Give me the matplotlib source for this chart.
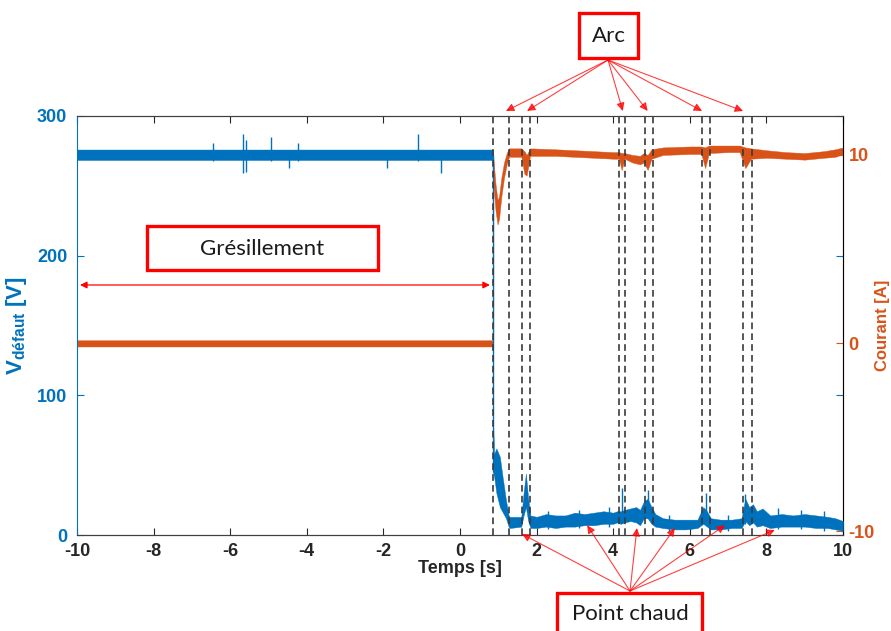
import matplotlib
matplotlib.use("Agg")
import matplotlib.pyplot as plt
from matplotlib.patches import Rectangle

# voltage envelope (time [s], lower / upper edge of noisy trace [V])
volt_t = [-10, 0.86, 0.86, 0.89, 0.95, 1.04, 1.12, 1.20, 1.27, 1.30, 1.60, 1.66, 1.72, 1.78,
          1.84, 2.0, 2.25, 2.5, 2.75, 3.0, 3.25, 3.5, 3.75, 4.0,
          4.1, 4.2, 4.3, 4.45, 4.6, 4.7, 4.8, 4.9, 5.0, 5.1,
          5.3, 5.6, 5.9, 6.2, 6.35, 6.45, 6.55, 6.8, 7.1, 7.35,
          7.45, 7.55, 7.65, 7.75, 7.9, 8.1, 8.4, 8.7, 9.0, 9.3,
          9.6, 9.8, 10.0]
volt_lo = [268.5, 268.5, 45, 42, 30, 20, 16, 12, 6, 5, 6, 14, 20, 10,
           5, 5, 6, 5, 6, 6, 7, 7, 8, 8,
           9, 8, 9, 10, 9, 7, 12, 12, 8, 6,
           5, 4, 4, 5, 8, 6, 4, 4, 5, 5,
           10, 7, 9, 6, 7, 5, 6, 6, 6, 5,
           5, 4, 3]
volt_hi = [276, 276, 85, 58, 62, 56, 40, 25, 14, 13, 13, 30, 44, 26,
           14, 13, 15, 14, 14, 16, 15, 16, 17, 16,
           17, 17, 18, 19, 20, 18, 24, 26, 20, 15,
           12, 11, 11, 11, 20, 17, 12, 11, 11, 12,
           26, 20, 22, 17, 19, 14, 15, 14, 15, 14,
           13, 12, 10]

# isolated voltage spikes (time, min, max)
vspike_t = [-6.45, -5.67, -5.6, -4.93, -4.46, -4.23, -1.9, -1.1, -0.5, 0.86,
            2.3, 3.1, 3.9, 4.23, 4.90, 5.45, 6.42, 7.0, 7.45, 8.3, 8.9, 9.5]
vspike_lo = [268, 259, 260, 268, 263, 268, 263, 268, 259, 45,
             4, 5, 6, 10, 12, 3, 8, 3, 8, 4, 4, 3]
vspike_hi = [281, 287, 283, 285, 276, 281, 276, 287, 276, 272,
             17, 18, 20, 34, 32, 14, 30, 14, 29, 19, 18, 17]

# current envelope (time [s], lower / upper edge [A])
cur_t = [-10, 0.86, 0.86, 0.88, 0.93, 0.98, 1.02, 1.08, 1.15, 1.22, 1.28, 1.60, 1.68, 1.74,
         1.83, 2.5, 3.0, 3.5, 4.0, 4.15, 4.22, 4.3, 4.5, 4.7, 4.8, 4.9, 5.0, 5.3,
         6.0, 6.3, 6.4, 6.5, 7.0, 7.3, 7.45, 7.6, 8.0, 8.5, 9.0, 9.5, 9.8, 10.0]
cur_lo = [-0.18, -0.18, 9.0, 8.2, 7.0, 6.3, 6.6, 7.8, 8.8, 9.5, 9.9, 9.9, 9.0, 8.9,
          9.95, 9.95, 9.9, 9.85, 9.8, 9.8, 9.2, 9.8, 9.6, 9.5, 9.6, 9.2, 9.8, 10.0,
          10.05, 10.05, 9.3, 10.1, 10.15, 10.15, 9.3, 9.8, 9.85, 9.8, 9.75, 9.85, 9.9, 10.05]
cur_hi = [0.15, 0.15, 10.2, 9.6, 8.4, 7.6, 7.8, 8.8, 9.6, 10.1, 10.35, 10.35, 10.2, 10.0,
          10.35, 10.3, 10.25, 10.2, 10.15, 10.15, 10.1, 10.1, 10.0, 9.95, 10.1, 10.0, 10.3, 10.4,
          10.45, 10.45, 10.4, 10.5, 10.5, 10.5, 10.4, 10.35, 10.25, 10.15, 10.1, 10.2, 10.3, 10.4]

# events
dash_t = [0.86, 1.28, 1.62, 1.83, 4.15, 4.31, 4.83, 5.04, 6.32, 6.53, 7.39, 7.62]
arc_t = [1.2, 1.75, 4.25, 4.9, 6.32, 7.39]
hot_t = [1.62, 3.32, 4.62, 5.61, 6.92, 8.22]
hot_v = [0.7, 7, 5, 5, 7, 3.6]
gres_span = [-9.92, 0.78]
gres_v = 179

xticks = list(range(-10, 11, 2))
yticks_left = [0, 100, 200, 300]
yticks_right = [-10, 0, 10]

BLUE = "#0072BD"
ORANGE = "#D95319"
W, H = 891, 631

plt.rcParams["font.family"] = ["Liberation Sans", "DejaVu Sans"]
plt.rcParams["axes.unicode_minus"] = False
plt.rcParams["mathtext.fontset"] = "custom"
plt.rcParams["mathtext.bf"] = "Liberation Sans:bold"
plt.rcParams["mathtext.rm"] = "Liberation Sans:bold"

fig = plt.figure(figsize=(W / 100, H / 100), dpi=100)
ax = fig.add_axes([77 / W, 1 - 535 / H, (843 - 77) / W, (535 - 116) / H])
ax2 = ax.twinx()

ax.fill_between(volt_t, volt_lo, volt_hi, color=BLUE, lw=0.3, zorder=3)
ax.vlines(vspike_t, vspike_lo, vspike_hi, color=BLUE, lw=1.0, zorder=3)

ax2.fill_between(cur_t, cur_lo, cur_hi, color=ORANGE, lw=0.3, zorder=2)
ax2.vlines([0.86], [0], [9.5], color=ORANGE, lw=0.8, zorder=2)

for t in dash_t:
    ax.axvline(t, color="#3a3a3a", ls=(0, (4, 2.5)), lw=1.2, zorder=5)

ax.set_xlim(-10, 10)
ax.set_ylim(0, 300)
ax2.set_ylim(-10.2, 12.07)
ax.set_xticks(xticks)
ax.set_yticks(yticks_left)
ax2.set_yticks(yticks_right)

ax.tick_params(axis="x", direction="in", length=5, top=True, labelsize=13, colors="#262626", width=0.8, pad=6)
ax.tick_params(axis="y", direction="in", length=5, right=True, labelsize=13, colors=BLUE, width=0.8, pad=7)
ax2.tick_params(axis="y", direction="in", length=5, labelsize=13, colors=ORANGE, width=0.8, pad=4)
for lab in ax.get_xticklabels() + ax.get_yticklabels() + ax2.get_yticklabels():
    lab.set_fontweight("bold")

ax.spines["left"].set_color(BLUE)
ax.spines["top"].set_color("#404040")
ax.spines["bottom"].set_color("#404040")
ax2.spines["right"].set_color(ORANGE)
ax2.spines["left"].set_visible(False)
ax2.spines["top"].set_color("#404040")
ax2.spines["bottom"].set_color("#404040")

ax.set_xlabel("Temps [s]", fontsize=13, fontweight="bold", color="#262626", labelpad=0)
ax.set_ylabel(r"$\mathbf{V_{défaut}}$ [V]", fontsize=16, fontweight="bold", color=BLUE, labelpad=6)
ax2.set_ylabel("Courant [A]", fontsize=12, fontweight="bold", color=ORANGE, labelpad=0)

ax.patch.set_visible(False)
ax2.set_zorder(0)
ax.set_zorder(1)

ann_font = ["Lato", "DejaVu Sans"]
arrow = dict(arrowstyle="-|>", color="red", lw=0.8, alpha=0.75, mutation_scale=12, shrinkA=0, shrinkB=0)


def label_box(x0, y0, x1, y1, text):
    fig.patches.append(Rectangle((x0 / W, 1 - y1 / H), (x1 - x0) / W, (y1 - y0) / H,
                                 transform=fig.transFigure, fc="white", ec="red", lw=2.4, zorder=9))
    fig.text((x0 + x1) / 2 / W, 1 - ((y0 + y1) / 2 + 1) / H, text, fontsize=16, family=ann_font,
             ha="center", va="center", color="#1a1a1a", zorder=10)


# Arc
label_box(579, 13, 638, 58, "Arc")
for t in arc_t:
    ax.annotate("", xy=(t, 1.012), xycoords=("data", "axes fraction"),
                xytext=(608 / W, 1 - 60 / H), textcoords="figure fraction",
                arrowprops=arrow, annotation_clip=False)

# Grésillement
label_box(147, 226, 378, 270, "Grésillement")
ax.annotate("", xy=(gres_span[0], gres_v), xytext=(gres_span[1], gres_v),
            arrowprops=dict(arrowstyle="<|-|>", color="red", lw=0.9, mutation_scale=10, shrinkA=0, shrinkB=0),
            zorder=6)

# Point chaud
fig.patches.append(Rectangle((557 / W, -0.05), (702 - 557) / W, 0.05 + (631 - 593) / H,
                             transform=fig.transFigure, fc="white", ec="red", lw=2.4, zorder=9))
fig.text(630 / W, 1 - 614 / H, "Point chaud", fontsize=16, family=ann_font,
         ha="center", va="center", color="#1a1a1a", zorder=10)
for t, v in zip(hot_t, hot_v):
    ax.annotate("", xy=(t, v), xycoords="data",
                xytext=(630 / W, 1 - 591 / H), textcoords="figure fraction",
                arrowprops=arrow, annotation_clip=False)

fig.savefig("out.png", dpi=100)
